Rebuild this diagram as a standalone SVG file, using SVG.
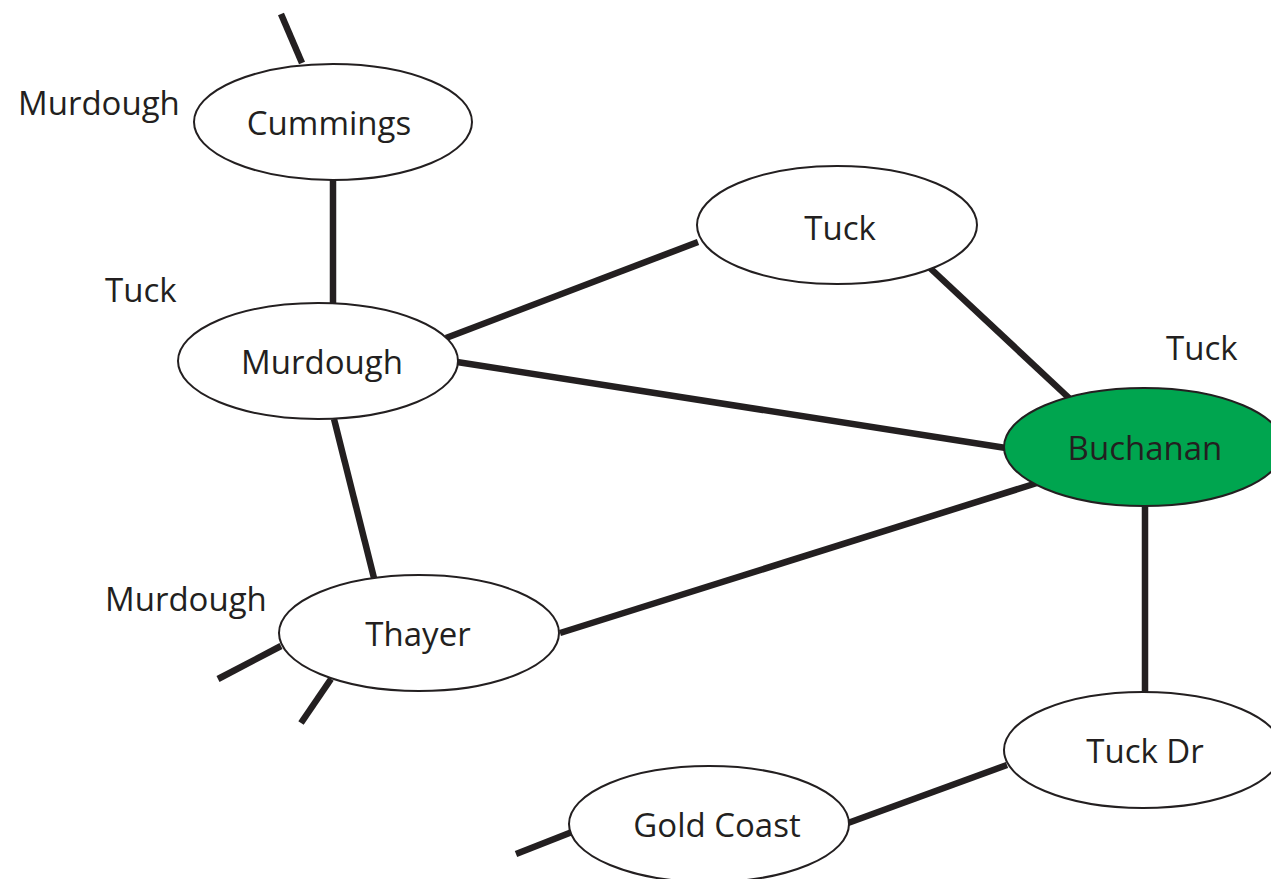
<svg xmlns="http://www.w3.org/2000/svg" width="1271" height="879" viewBox="0 0 1271 879">
  <style>
    .edge { stroke: #231f20; stroke-width: 6.5; fill: none; }
    .node { fill: #ffffff; stroke: #231f20; stroke-width: 2; }
    .node.hl { fill: #00a54f; }
    text { font-family: "Open Sans", "Liberation Sans", sans-serif; font-size: 33px; fill: #231f20; }
    .c { text-anchor: middle; }
  </style>
  <rect width="1271" height="879" fill="#ffffff"/>
  <g id="connectors">
    <line class="edge" x1="281" y1="14" x2="302" y2="63"/>
    <line class="edge" x1="333" y1="180" x2="333" y2="304"/>
    <line class="edge" x1="446" y1="338" x2="698" y2="242"/>
    <line class="edge" x1="457" y1="362" x2="1006" y2="448"/>
    <line class="edge" x1="334" y1="419" x2="374" y2="578"/>
    <line class="edge" x1="930" y1="268" x2="1069" y2="398"/>
    <line class="edge" x1="560" y1="633" x2="1037" y2="483"/>
    <line class="edge" x1="1145" y1="505" x2="1145" y2="693"/>
    <line class="edge" x1="848" y1="823" x2="1007" y2="765"/>
    <line class="edge" x1="516" y1="854" x2="572" y2="832"/>
    <line class="edge" x1="218" y1="679" x2="281" y2="646"/>
    <line class="edge" x1="301" y1="723" x2="331" y2="679"/>
  </g>
  <g id="cummings">
    <ellipse class="node" cx="333" cy="122" rx="139" ry="58"/>
    <text class="c" x="329" y="135">Cummings</text>
  </g>
  <g id="murdough">
    <ellipse class="node" cx="318" cy="361" rx="140" ry="58"/>
    <text class="c" x="322" y="374">Murdough</text>
  </g>
  <g id="tuck">
    <ellipse class="node" cx="837" cy="225" rx="140" ry="59"/>
    <text class="c" x="840" y="240">Tuck</text>
  </g>
  <g id="buchanan">
    <ellipse class="node hl" cx="1144" cy="447" rx="140" ry="59"/>
    <text class="c" x="1145" y="460">Buchanan</text>
  </g>
  <g id="thayer">
    <ellipse class="node" cx="419" cy="633" rx="140" ry="58"/>
    <text class="c" x="418" y="646">Thayer</text>
  </g>
  <g id="tuck-dr">
    <ellipse class="node" cx="1143" cy="750" rx="139" ry="58"/>
    <text class="c" x="1145" y="763">Tuck Dr</text>
  </g>
  <g id="gold-coast">
    <ellipse class="node" cx="709" cy="824" rx="140" ry="58"/>
    <text class="c" x="717" y="837">Gold Coast</text>
  </g>
  <g id="labels">
    <text x="18" y="115">Murdough</text>
    <text x="105" y="302">Tuck</text>
    <text x="1166" y="360">Tuck</text>
    <text x="105" y="611">Murdough</text>
  </g>
</svg>
